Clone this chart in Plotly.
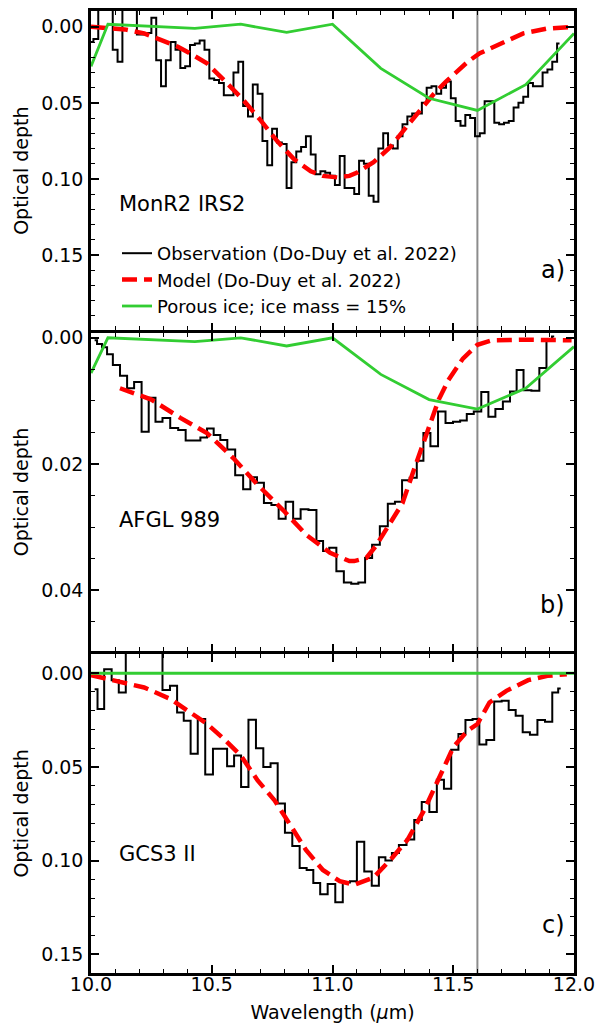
import plotly.graph_objects as go
from plotly.subplots import make_subplots

# ---------------- data ----------------
# Panel a) MonR2 IRS2
OBS_A_WL = [10.00, 10.02, 10.04, 10.06, 10.08, 10.10, 10.12, 10.14, 10.16, 10.18,
            10.20, 10.22, 10.24, 10.26, 10.28, 10.30, 10.32, 10.34, 10.36, 10.38,
            10.40, 10.42, 10.44, 10.46, 10.48, 10.50, 10.52, 10.54, 10.56, 10.58,
            10.60, 10.62, 10.64, 10.66, 10.68, 10.70, 10.72, 10.74, 10.76, 10.78,
            10.80, 10.82, 10.84, 10.86, 10.88, 10.90, 10.92, 10.94, 10.96, 10.98,
            11.00, 11.02, 11.04, 11.06, 11.08, 11.10, 11.12, 11.14, 11.16, 11.18,
            11.20, 11.22, 11.24, 11.26, 11.28, 11.30, 11.32, 11.34, 11.36, 11.38,
            11.40, 11.42, 11.44, 11.46, 11.48, 11.50, 11.52, 11.54, 11.56, 11.58,
            11.60, 11.62, 11.64, 11.66, 11.68, 11.70, 11.72, 11.74, 11.76, 11.78,
            11.80, 11.82, 11.84, 11.86, 11.88, 11.90, 11.92, 11.94]
OBS_A_TAU = [0.010, 0.008, -0.015, -0.015, -0.015, 0.015, 0.023, -0.015, -0.015, -0.015,
             0.005, 0.005, 0.004, -0.006, 0.022, 0.039, 0.022, 0.010, 0.015, 0.027,
             0.026, 0.012, 0.011, 0.009, 0.015, 0.034, 0.035, 0.037, 0.045, 0.045,
             0.030, 0.023, 0.052, 0.059, 0.038, 0.044, 0.075, 0.091, 0.067, 0.076,
             0.077, 0.106, 0.089, 0.082, 0.079, 0.072, 0.084, 0.097, 0.095, 0.096,
             0.098, 0.104, 0.085, 0.106, 0.106, 0.110, 0.088, 0.090, 0.111, 0.115,
             0.080, 0.070, 0.078, 0.080, 0.072, 0.064, 0.059, 0.057, 0.057, 0.050,
             0.040, 0.039, 0.044, 0.040, 0.036, 0.047, 0.062, 0.065, 0.058, 0.060,
             0.072, 0.070, 0.049, 0.049, 0.063, 0.064, 0.063, 0.062, 0.053, 0.050,
             0.046, 0.037, 0.039, 0.039, 0.030, 0.028, 0.023, 0.011]
MOD_A_WL = [10.00, 10.14, 10.22, 10.27, 10.36, 10.41, 10.48, 10.55, 10.63, 10.70,
            10.77, 10.84, 10.91, 10.96, 11.02, 11.07, 11.10, 11.17, 11.24, 11.31,
            11.38, 11.42, 11.47, 11.56, 11.61, 11.70, 11.79, 11.89, 11.98, 12.00]
MOD_A_TAU = [0.000, 0.0017, 0.0043, 0.0076, 0.0131, 0.0174, 0.024, 0.0349, 0.048, 0.061,
             0.075, 0.087, 0.095, 0.098, 0.099, 0.098, 0.096, 0.089, 0.079, 0.065,
             0.052, 0.044, 0.036, 0.023, 0.0174, 0.011, 0.0043, 0.0011, 0.000, 0.000]

# Panel b) AFGL 989
OBS_B_WL = [10.015, 10.035, 10.056, 10.077, 10.104, 10.136, 10.163, 10.194, 10.225, 10.253,
            10.281, 10.311, 10.345, 10.377, 10.407, 10.439, 10.467, 10.494, 10.522, 10.549,
            10.580, 10.614, 10.646, 10.674, 10.701, 10.731, 10.763, 10.791, 10.821, 10.853,
            10.883, 10.918, 10.949, 10.973, 11.000, 11.032, 11.062, 11.093, 11.121, 11.149,
            11.179, 11.213, 11.245, 11.272, 11.304, 11.335, 11.363, 11.390, 11.421, 11.453,
            11.483, 11.515, 11.542, 11.570, 11.600, 11.632, 11.659, 11.690, 11.721, 11.749,
            11.776, 11.806, 11.841, 11.872, 11.900, 11.918]
OBS_B_TAU = [0.0004, 0.0010, 0.0015, 0.0026, 0.0043, 0.0060, 0.0080, 0.0070, 0.0149, 0.0095,
             0.0133, 0.0127, 0.0143, 0.0146, 0.0163, 0.0163, 0.0158, 0.0144, 0.0154, 0.0162,
             0.0177, 0.0218, 0.0240, 0.0221, 0.0230, 0.0262, 0.0265, 0.0287, 0.0260, 0.0287,
             0.0272, 0.0273, 0.0322, 0.0338, 0.0333, 0.0370, 0.0388, 0.0390, 0.0388, 0.0349,
             0.0328, 0.0299, 0.0263, 0.0260, 0.0226, 0.0222, 0.0195, 0.0151, 0.0172, 0.0117,
             0.0135, 0.0133, 0.0131, 0.0121, 0.0117, 0.0086, 0.0125, 0.0113, 0.0101, 0.0085,
             0.0051, 0.0083, 0.0084, 0.0048, 0.0004, -0.0002]
MOD_B_WL = [10.12, 10.25, 10.37, 10.48, 10.59, 10.69, 10.80, 10.89, 10.99, 11.07,
            11.09, 11.14, 11.18, 11.23, 11.29, 11.34, 11.40, 11.44, 11.48, 11.54,
            11.60, 11.66, 11.78, 11.99]
MOD_B_TAU = [0.0080, 0.0098, 0.0127, 0.0151, 0.0191, 0.0233, 0.0275, 0.0312, 0.0341, 0.0354,
             0.0354, 0.0349, 0.0330, 0.0299, 0.0262, 0.0206, 0.0143, 0.0098, 0.0067, 0.0033,
             0.0011, 0.0004, 0.0003, 0.0004]

# Panel c) GCS3 II
OBS_C_WL = [10.015, 10.039, 10.070, 10.101, 10.129, 10.159, 10.190, 10.220, 10.250, 10.281,
            10.311, 10.343, 10.370, 10.398, 10.427, 10.457, 10.489, 10.521, 10.549, 10.578,
            10.607, 10.636, 10.668, 10.698, 10.729, 10.758, 10.788, 10.818, 10.849, 10.879,
            10.907, 10.934, 10.964, 10.996, 11.027, 11.058, 11.086, 11.116, 11.147, 11.178,
            11.206, 11.232, 11.260, 11.290, 11.323, 11.354, 11.385, 11.417, 11.447, 11.476,
            11.507, 11.536, 11.565, 11.595, 11.621, 11.653, 11.686, 11.715, 11.744, 11.773,
            11.802, 11.833, 11.864, 11.896, 11.924, 11.945]
OBS_C_TAU = [0.0085, 0.0191, -0.0021, 0.0037, 0.0103, -0.020, -0.020, -0.020, -0.020, -0.020,
             0.0090, 0.0067, 0.0209, 0.0253, 0.0430, 0.0244, 0.0541, 0.0403, 0.0403, 0.0497,
             0.0439, 0.0607, 0.0248, 0.0400, 0.0501, 0.0480, 0.0695, 0.0851, 0.0922, 0.1040,
             0.1050, 0.1120, 0.1180, 0.1125, 0.1223, 0.1117, 0.1110, 0.0899, 0.1058, 0.1134,
             0.0982, 0.1000, 0.0960, 0.0917, 0.0887, 0.0784, 0.0687, 0.0740, 0.0568, 0.0616,
             0.0409, 0.0324, 0.0249, 0.0244, 0.0380, 0.0356, 0.0151, 0.0147, 0.0196, 0.0227,
             0.0315, 0.0329, 0.0249, 0.0259, 0.0103, 0.0082]
MOD_C_WL = [10.00, 10.11, 10.22, 10.33, 10.41, 10.48, 10.55, 10.62, 10.69, 10.76,
            10.83, 10.89, 10.96, 11.03, 11.09, 11.17, 11.24, 11.31, 11.38, 11.45,
            11.50, 11.56, 11.60, 11.65, 11.72, 11.81, 11.89, 11.97]
MOD_C_TAU = [0.0010, 0.0041, 0.0076, 0.0138, 0.0209, 0.0270, 0.0350, 0.0439, 0.0572, 0.0678,
             0.0820, 0.0943, 0.1050, 0.1110, 0.1129, 0.1090, 0.0996, 0.0890, 0.0730, 0.0536,
             0.0395, 0.0306, 0.0271, 0.0156, 0.0094, 0.0037, 0.0014, 0.0005]

# Porous ice model (green), shared wavelength grid
ICE_WL = [10.00, 10.07, 10.43, 10.62, 10.81, 11.00, 11.20, 11.40, 11.60, 11.80, 12.00]
ICE_A_TAU = [0.026, -0.0017, 0.001, -0.0017, 0.0037, -0.0017, 0.0273, 0.047, 0.055, 0.038, 0.0044]
ICE_B_TAU = [0.0056, 0.0, 0.0006, 0.0, 0.0013, 0.0, 0.0058, 0.0098, 0.0113, 0.0080, 0.0014]
ICE_C_TAU = [0.0, 0.0, 0.0, 0.0, 0.0, 0.0, 0.0, 0.0, 0.0, 0.0, 0.0]

VLINE_WL = 11.6
SOURCES = ["MonR2 IRS2", "AFGL 989", "GCS3 II"]
PANEL_TAGS = ["a)", "b)", "c)"]
NAMES = ["Observation (Do-Duy et al. 2022)", "Model (Do-Duy et al. 2022)",
         "Porous ice; ice mass = 15%"]
Y_RANGES = [[0.1995, -0.0104], [0.0497, -0.0008], [0.1600, -0.0104]]
Y_DTICK = [0.05, 0.02, 0.05]
Y_MINOR = [0.01, 0.005, 0.01]

# ---------------- figure ----------------
FONT = "DejaVu Sans"
LW = 2.5  # spine width
fig = make_subplots(rows=3, cols=1, shared_xaxes=True, vertical_spacing=0)

panels = [
    (OBS_A_WL, OBS_A_TAU, MOD_A_WL, MOD_A_TAU, ICE_A_TAU),
    (OBS_B_WL, OBS_B_TAU, MOD_B_WL, MOD_B_TAU, ICE_B_TAU),
    (OBS_C_WL, OBS_C_TAU, MOD_C_WL, MOD_C_TAU, ICE_C_TAU),
]
for i, (ow, ot, mw, mt, it) in enumerate(panels):
    row = i + 1
    first = (i == 0)
    fig.add_trace(go.Scatter(x=ow, y=ot, mode="lines", line=dict(color="black", width=2, shape="hvh"),
                             name=NAMES[0], showlegend=first), row=row, col=1)
    fig.add_trace(go.Scatter(x=mw, y=mt, mode="lines", line=dict(color="red", width=4.5, dash="15px,7px"),
                             name=NAMES[1], showlegend=first), row=row, col=1)
    fig.add_trace(go.Scatter(x=ICE_WL, y=it, mode="lines", line=dict(color="#32CD32", width=2.8),
                             name=NAMES[2], showlegend=first), row=row, col=1)
    fig.add_vline(x=VLINE_WL, line_color="#8c8c8c", line_width=2, layer="below", row=row, col=1)

    yref = "y" if i == 0 else f"y{row}"
    xref = "x" if i == 0 else f"x{row}"
    fig.add_annotation(text=SOURCES[i], xref=f"{xref} domain", yref=f"{yref} domain",
                       x=0.053, y=[0.395, 0.413, 0.374][i], xanchor="left", yanchor="middle",
                       showarrow=False, font=dict(family=FONT, size=21, color="black"))
    fig.add_annotation(text=PANEL_TAGS[i], xref=f"{xref} domain", yref=f"{yref} domain",
                       x=0.985, y=[0.19, 0.145, 0.15][i], xanchor="right", yanchor="middle",
                       showarrow=False, font=dict(family=FONT, size=24, color="black"))

axis_common = dict(showline=True, linecolor="black", linewidth=LW, mirror="ticks",
                   ticks="inside", ticklen=8, tickwidth=1.5, tickcolor="black",
                   showgrid=False, zeroline=False, automargin=False,
                   tickfont=dict(family=FONT, size=19, color="black"))

# panel domains (pixel rows of the shared spines: 11, 331.5, 652.5, 973 in a 962 px plot area)
def frac(px):
    return 1 - (px - 11) / 962

DOMAINS = [
    [frac(331.5 - LW / 2), 1.0],
    [frac(652.5 - LW / 2), frac(331.5 + LW / 2)],
    [0.0, frac(652.5 + LW / 2)],
]

for i in range(3):
    row = i + 1
    fig.update_xaxes(range=[10, 12], tick0=10, dtick=0.5, tickformat=".1f",
                     minor=dict(dtick=0.1, tick0=10, ticks="inside", ticklen=4.5, tickwidth=1.2,
                                tickcolor="black", showgrid=False),
                     showticklabels=(row == 3), ticklabelstandoff=-8, **axis_common, row=row, col=1)
    fig.update_yaxes(range=Y_RANGES[i], tick0=0, dtick=Y_DTICK[i], tickformat=".2f",
                     domain=DOMAINS[i],
                     minor=dict(dtick=Y_MINOR[i], tick0=0, ticks="inside", ticklen=4.5, tickwidth=1.2,
                                tickcolor="black", showgrid=False),
                     title=dict(text="Optical depth", font=dict(family=FONT, size=19, color="black"), standoff=8),
                     ticklabelstandoff=1, **axis_common, row=row, col=1)

fig.update_xaxes(title=dict(text="Wavelength (<i>μ</i>m)", font=dict(family=FONT, size=19, color="black"),
                            standoff=13), row=3, col=1)

fig.update_layout(
    width=606, height=1025,
    margin=dict(l=91, r=32, t=11, b=52, autoexpand=False),
    paper_bgcolor="white", plot_bgcolor="white",
    font=dict(family=FONT, size=19, color="black"),
    legend=dict(x=(117 - 91) / 483, y=frac(235), xanchor="left", yanchor="top",
                bgcolor="rgba(0,0,0,0)", borderwidth=0,
                font=dict(family=FONT, size=18, color="black"), tracegroupgap=0),
)

fig.write_html("out.html")
